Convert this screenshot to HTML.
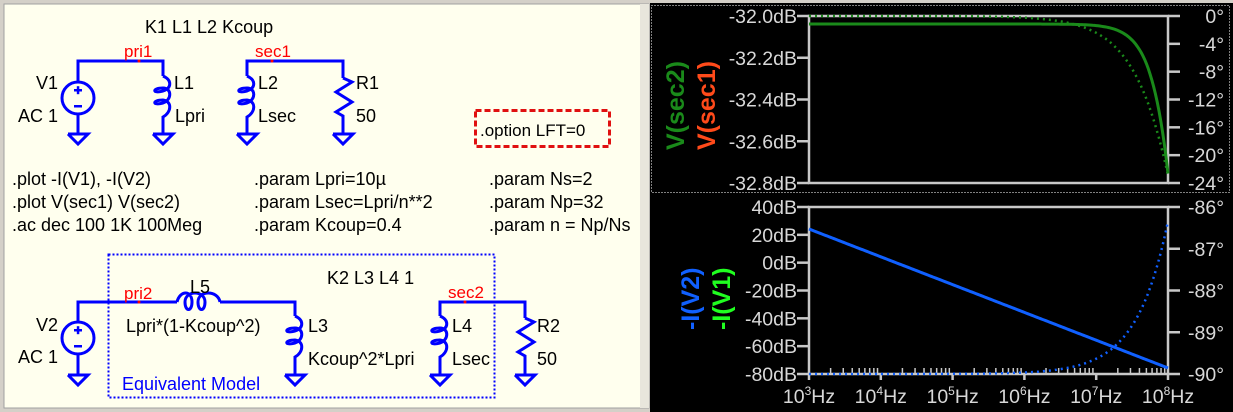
<!DOCTYPE html>
<html><head><meta charset="utf-8"><style>
html,body{margin:0;padding:0;width:1233px;height:412px;overflow:hidden;background:#d4d0c8}
svg{display:block}
text{font-family:"Liberation Sans","DejaVu Sans",sans-serif}
</style></head><body>
<svg id="s" width="1233" height="412" viewBox="0 0 1233 412" xmlns="http://www.w3.org/2000/svg">
<rect x="0" y="0" width="1233" height="412" fill="#d4d0c8"/>
<rect x="4" y="4" width="645" height="404" fill="#ffffee" stroke="#a0a0a0" stroke-width="1"/>
<rect x="640" y="4" width="9" height="404" fill="#e8e6dc"/>
<rect x="650" y="3" width="583" height="409" fill="#000"/>
<rect x="651.5" y="5.5" width="578" height="187" fill="none" stroke="#fff" stroke-width="1" stroke-dasharray="1,2"/>

<g fill="none" stroke="#0000ff" stroke-width="3" stroke-linejoin="miter">
 <polyline points="78,82 78,61 163,61 163,76"/>
 <circle cx="78" cy="98" r="16"/>
 <line x1="78" y1="114" x2="78" y2="134"/>
 <polyline points="68,134 88,134 78,144 68,134"/>
 <path d="M163,76 C172,80 172,88 163,91 C152,94 152,88 163,88 C172,88 172,100 163,103 C152,106 152,100 163,100 C172,101 172,112 163,117 L163,134"/>
 <polyline points="153,134 173,134 163,144 153,134"/>
 <polyline points="247,76 247,61 343,61 343,78"/>
 <path d="M247,76 C256,80 256,88 247,91 C236,94 236,88 247,88 C256,88 256,100 247,103 C236,106 236,100 247,100 C256,101 256,112 247,117 L247,134"/>
 <polyline points="237,134 257,134 247,144 237,134"/>
 <polyline points="343,78 352,82 336,92 352,102 336,112 343,116 343,134"/>
 <polyline points="333,134 353,134 343,144 333,134"/>
 <polyline points="78,322 78,302 177,302"/>
 <path d="M177,302 C180,290 192,290 192,302 C192,312 185,312 185,302 C185,290 205,290 205,302 C205,312 198,312 198,302 C198,290 218,290 220,302"/>
 <polyline points="220,302 295,302 295,316"/>
 <circle cx="78" cy="338" r="16"/>
 <line x1="78" y1="354" x2="78" y2="375"/>
 <polyline points="68,375 88,375 78,385 68,375"/>
 <path d="M295,316 C304,320 304,328 295,331 C284,334 284,328 295,328 C304,328 304,340 295,343 C284,346 284,340 295,340 C304,341 304,352 295,357 L295,375"/>
 <polyline points="285,375 305,375 295,385 285,375"/>
 <polyline points="440,316 440,302 525,302 525,318"/>
 <path d="M440,316 C449,320 449,328 440,331 C429,334 429,328 440,328 C449,328 449,340 440,343 C429,346 429,340 440,340 C449,341 449,352 440,357 L440,375"/>
 <polyline points="430,375 450,375 440,385 430,375"/>
 <polyline points="525,318 534,322 518,332 534,342 518,352 525,356 525,375"/>
 <polyline points="515,375 535,375 525,385 515,375"/>
</g>
<g fill="#0000ff" stroke="none">
 <rect x="74" y="89" width="8" height="2.5"/><rect x="76.8" y="86.2" width="2.5" height="8"/>
 <rect x="74" y="105" width="8" height="2.5"/>
 <rect x="74" y="329" width="8" height="2.5"/><rect x="76.8" y="326.2" width="2.5" height="8"/>
 <rect x="74" y="345" width="8" height="2.5"/>
</g>
<rect x="108.5" y="254.5" width="386" height="143" fill="none" stroke="#0000ff" stroke-width="2" stroke-dasharray="2,2"/>
<rect x="475.5" y="110.5" width="134" height="36" fill="none" stroke="#e01010" stroke-width="3" stroke-dasharray="6,3"/>
<g fill="#ff0000" font-size="17">
 <circle cx="139" cy="61" r="1.5"/><circle cx="272" cy="61" r="1.5"/><circle cx="139" cy="302" r="1.5"/><circle cx="465" cy="302" r="1.5"/>
 <text x="124" y="57">pri1</text><text x="255" y="57">sec1</text>
 <text x="124" y="299">pri2</text><text x="448" y="298">sec2</text>
</g>
<g fill="#000" font-size="18">
 <text x="145" y="33">K1 L1 L2 Kcoup</text>
 <text x="36" y="89">V1</text><text x="18" y="122">AC 1</text>
 <text x="174" y="89">L1</text><text x="175" y="122">Lpri</text>
 <text x="258" y="89">L2</text><text x="258" y="122">Lsec</text>
 <text x="356" y="89">R1</text><text x="356" y="122">50</text>
 <text x="480" y="136" font-size="17">.option LFT=0</text>
 <text x="12" y="185">.plot -I(V1), -I(V2)</text>
 <text x="12" y="208">.plot V(sec1) V(sec2)</text>
 <text x="12" y="231">.ac dec 100 1K 100Meg</text>
 <text x="254" y="185">.param Lpri=10µ</text>
 <text x="254" y="208">.param Lsec=Lpri/n**2</text>
 <text x="254" y="231">.param Kcoup=0.4</text>
 <text x="489" y="185">.param Ns=2</text>
 <text x="489" y="208">.param Np=32</text>
 <text x="489" y="231">.param n = Np/Ns</text>
 <text x="327" y="284">K2 L3 L4 1</text>
 <text x="190" y="293">L5</text>
 <text x="36" y="331">V2</text><text x="18" y="363">AC 1</text>
 <text x="126" y="332">Lpri*(1-Kcoup^2)</text>
 <text x="308" y="332">L3</text><text x="308" y="365">Kcoup^2*Lpri</text>
 <text x="452" y="332">L4</text><text x="452" y="365">Lsec</text>
 <text x="537" y="332">R2</text><text x="537" y="365">50</text>
</g>
<text x="122" y="390" fill="#0000ff" font-size="18">Equivalent Model</text>

<g id="axes" stroke="#c8c8c8" stroke-width="2.5" fill="none">
 <rect x="809" y="16" width="359" height="167"/>
 <rect x="809" y="207" width="359" height="167"/>
</g>
<g id="labels" fill="#d8d8d8" font-size="19.5"></g>
<g fill="none" stroke-width="3">
 <path id="c1" stroke="#1a8a1a"/>
 <path id="c2" stroke="#1a8a1a" stroke-width="2.5" stroke-dasharray="2,4"/>
 <path id="c3" stroke="#1060ff"/>
 <path id="c4" stroke="#1060ff" stroke-width="2.5" stroke-dasharray="2,4"/>
</g>
<g font-size="25" font-weight="bold">
 <text transform="translate(684,150) rotate(-90)" fill="#1a8a1a">V(sec2)</text>
 <text transform="translate(715,150) rotate(-90)" fill="#ff4a1a">V(sec1)</text>
 <text transform="translate(699,330) rotate(-90)" fill="#1060ff">-I(V2)</text>
 <text transform="translate(730,330) rotate(-90)" fill="#20ff20">-I(V1)</text>
</g>
</svg>
<script>
(function(){
var NS="http://www.w3.org/2000/svg",ax=document.getElementById('axes'),lb=document.getElementById('labels');
function L(x1,y1,x2,y2,w){var l=document.createElementNS(NS,'line');l.setAttribute('x1',x1);l.setAttribute('y1',y1);l.setAttribute('x2',x2);l.setAttribute('y2',y2);if(w)l.setAttribute('stroke-width',w);ax.appendChild(l);}
function T(x,y,s,a){var t=document.createElementNS(NS,'text');t.setAttribute('x',x);t.setAttribute('y',y);t.setAttribute('text-anchor',a);t.innerHTML=s;lb.appendChild(t);}
var tl=['-32.0dB','-32.2dB','-32.4dB','-32.6dB','-32.8dB'],tr=['0°','-4°','-8°','-12°','-16°','-20°','-24°'];
for(var i=0;i<5;i++){var y=16+i*41.75;L(797,y,809,y);T(797,y+7,tl[i],'end');}
for(var i=0;i<7;i++){var y=16+i*167/6;L(1168,y,1180,y);T(1224,y+7,tr[i],'end');}
var bl=['40dB','20dB','0dB','-20dB','-40dB','-60dB','-80dB'];
for(var i=0;i<7;i++){var y=207+i*167/6;L(797,y,809,y);T(797,y+7,bl[i],'end');}
var br=['-86°','-87°','-88°','-89°','-90°'];
for(var i=0;i<5;i++){var y=207+i*41.75;L(1168,y,1180,y);T(1224,y+7,br[i],'end');}
var dw=359/5;
for(var d=0;d<=5;d++){var x=809+d*dw;L(x,374,x,380);T(x,403,'10<tspan font-size="12" dy="-8">'+(d+3)+'</tspan><tspan dy="8">Hz</tspan>','middle');
 if(d<5)for(var k=2;k<10;k++){var xx=x+Math.log10(k)*dw;L(xx,374,xx,368,1.5);}}
var fc=2.37e8,p1='',p2='',p3='',p4='';
for(var i=0;i<=200;i++){var t=i/200,f=Math.pow(10,3+5*t),x=809+t*359,r=f/fc;
 var y1=24+210*10*Math.log10(1+r*r);var y2=16+6.96*Math.atan(r)*180/Math.PI;
 var y3=229+t*139;var y4=374-153*(f/1e8);
 p1+=(i?'L':'M')+x.toFixed(1)+','+y1.toFixed(1);p2+=(i?'L':'M')+x.toFixed(1)+','+y2.toFixed(1);
 p3+=(i?'L':'M')+x.toFixed(1)+','+y3.toFixed(1);p4+=(i?'L':'M')+x.toFixed(1)+','+y4.toFixed(1);}
document.getElementById('c1').setAttribute('d',p1);document.getElementById('c2').setAttribute('d',p2);
document.getElementById('c3').setAttribute('d',p3);document.getElementById('c4').setAttribute('d',p4);
})();
</script>
</body></html>
